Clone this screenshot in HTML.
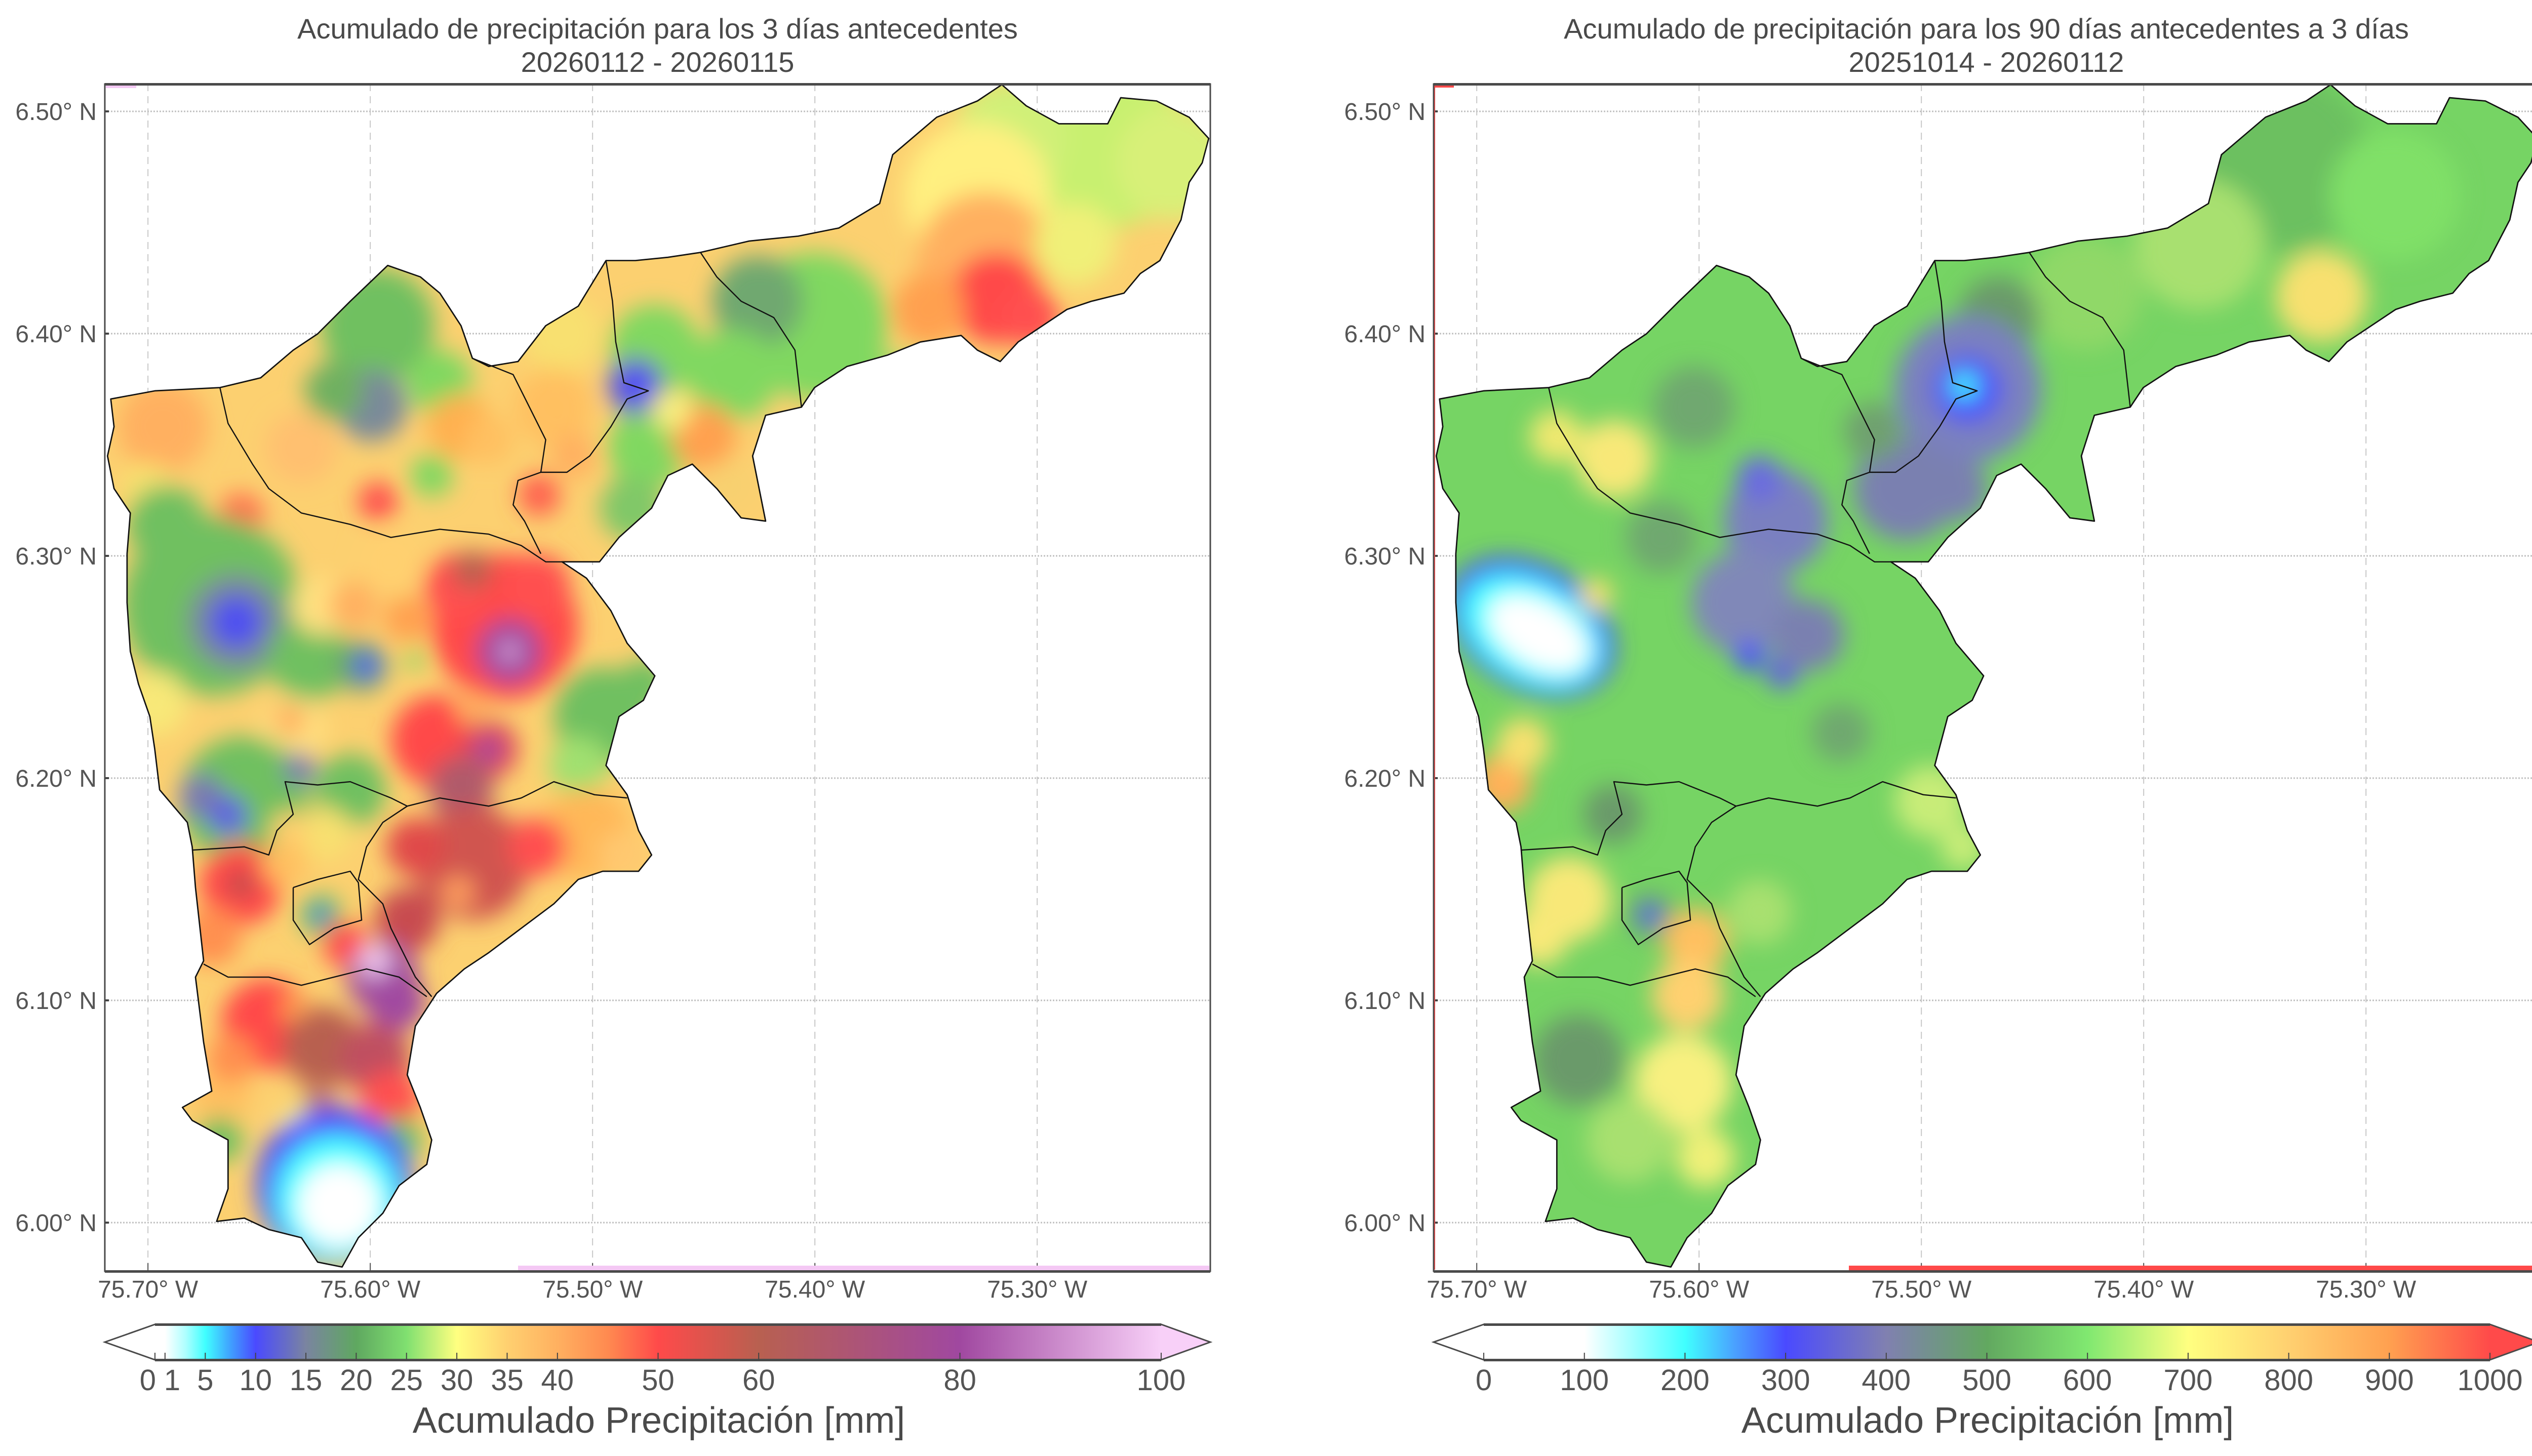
<!DOCTYPE html>
<html><head><meta charset="utf-8">
<style>
html,body{margin:0;padding:0;background:#fff;}
svg{display:block;font-family:"Liberation Sans Narrow","Liberation Sans",sans-serif;}
</style></head>
<body>
<svg id="fig" xmlns="http://www.w3.org/2000/svg" width="5044" height="2876" viewBox="0 0 5044 2876">
<defs>
  <filter id="blurL" x="-20%" y="-20%" width="140%" height="140%"><feGaussianBlur stdDeviation="7"/></filter>
</defs>
<g id="root"></g>
</svg>
<script>
// ---------- data ----------
const leftTickValues = [0, 1, 5, 10, 15, 20, 25, 30, 35, 40, 50, 60, 80, 100];
const leftTickLabels = ["0", "1", "5", "10", "15", "20", "25", "30", "35", "40", "50", "60", "80", "100"];
const leftStopValues = [0, 1, 3, 5, 7.5, 10, 15, 20, 25, 30, 35, 40, 45, 50, 60, 80, 100];
const leftStopColors = ["#ffffff","#ffffff","#b0ffff","#40ffff","#40a0ff","#4a4aff","#7a84a0","#5fa860","#80e070","#ffff80","#ffd070","#ffb060","#ff8a50","#ff4a4a","#b86050","#a048a0","#f8d0f8"];
const rightTickValues = [0, 100, 200, 300, 400, 500, 600, 700, 800, 900, 1000];
const rightTickLabels = ["0","100","200","300","400","500","600","700","800","900","1000"];
const rightStopValues = [0, 100, 200, 250, 300, 400, 500, 600, 700, 800, 900, 1000];
const rightStopColors = ["#ffffff","#ffffff","#40ffff","#4aa0ff","#4a4aff","#8080b0","#62a860","#80e870","#ffff80","#ffd070","#ffa050","#ff4a4a"];
const lonTicks = [-75.7, -75.6, -75.5, -75.4, -75.3];
const lonLabels = ["75.70° W","75.60° W","75.50° W","75.40° W","75.30° W"];
const latTicks = [6.0, 6.1, 6.2, 6.3, 6.4, 6.5];
const latLabels = ["6.00° N","6.10° N","6.20° N","6.30° N","6.40° N","6.50° N"];

const NS = "http://www.w3.org/2000/svg";
const root = document.getElementById("root");
function mk(tag, attrs, parent){ const e=document.createElementNS(NS,tag); for(const k in attrs) e.setAttribute(k,attrs[k]); (parent||root).appendChild(e); return e; }

const AX_TOP=166, AX_BOT=2511, AX_W=2183;
const LON0=-75.7194, PX_PER_DEG=4390;
const LAT0=6.0, Y_LAT0=2415;
function xLon(left, lon){ return left + (lon-LON0)*PX_PER_DEG; }
function yLat(lat){ return Y_LAT0 - (lat-LAT0)*PX_PER_DEG; }

const outer = [[68,245],[95,240],[135,238],[160,232],[180,215],[195,205],[215,185],[238,163],[258,170],[270,180],[283,200],[290,220],[300,225],[318,222],[335,200],[355,188],[372,160],[390,160],[410,158],[430,155],[460,148],[490,145],[515,140],[540,125],[548,95],[575,72],[600,62],[615,52],[630,65],[650,76],[680,76],[688,60],[710,62],[730,72],[742,85],[738,100],[730,112],[725,135],[712,160],[700,168],[690,180],[670,185],[655,190],[640,200],[625,210],[614,222],[600,215],[590,206],[565,210],[545,218],[520,225],[500,238],[492,250],[470,255],[462,280],[470,320],[455,318],[440,300],[425,285],[410,292],[400,312],[380,330],[368,345],[345,345],[360,355],[375,375],[385,395],[402,415],[395,430],[380,440],[372,470],[385,488],[392,510],[400,525],[392,535],[370,535],[355,540],[340,555],[320,570],[300,585],[285,595],[268,610],[255,630],[250,660],[258,680],[265,700],[262,715],[245,728],[235,745],[220,760],[210,778],[195,775],[185,760],[165,755],[150,748],[133,750],[140,730],[140,700],[118,688],[112,680],[130,670],[125,640],[120,600],[125,590],[120,545],[118,520],[115,505],[98,485],[95,460],[92,440],[85,420],[80,400],[78,370],[78,340],[80,315],[70,300],[66,280],[70,262]];
const inner = [
 [[135,238],[140,260],[155,285],[165,300],[185,315],[215,322],[240,330],[270,325],[300,328],[320,335],[335,345],[345,345]],
 [[290,220],[315,230],[325,250],[335,270],[332,290],[318,295],[315,310],[322,320],[332,340]],
 [[372,160],[376,185],[378,210],[383,235],[398,240],[385,245],[375,262],[362,280],[348,290],[332,290]],
 [[430,155],[440,170],[455,185],[475,195],[488,215],[492,250]],
 [[118,522],[150,520],[165,525],[170,510],[180,500],[175,480],[195,482],[215,480],[240,490],[250,495],[270,490],[300,495],[320,490],[340,480],[365,488],[385,490]],
 [[250,495],[235,505],[225,520],[220,540],[235,555],[240,570],[255,600],[265,612]],
 [[125,592],[140,600],[165,600],[185,605],[205,600],[225,595],[245,600],[262,612]],
 [[180,545],[195,540],[215,535],[220,542],[222,565],[205,570],[190,580],[180,565],[180,545]]
];
// colour blobs: [x, y, r, colour, ry?, rot?] display coords
const leftBlobs = [
 [680,90,50,"#c8f070"],[720,100,35,"#d8f078"],[620,85,35,"#d0f078"],[600,120,45,"#fff080"],[605,160,42,"#ffb060"],[612,183,28,"#ff4a4a"],[632,195,18,"#ff5050"],[570,190,22,"#ffa050"],[560,235,18,"#a0e070"],[660,150,25,"#f0f078"],
 [500,200,45,"#80d860"],[465,185,28,"#70a870"],[450,230,28,"#80d860"],[520,225,25,"#80d860"],
 [402,215,28,"#80d860"],[398,275,25,"#80d860"],[388,312,20,"#80c868"],[390,237,18,"#7070c0"],[390,237,10,"#4a4aff"],[432,268,20,"#ffa050"],[448,298,16,"#f8d070"],[412,252,12,"#f8f080"],
 [345,205,24,"#f8e070"],[340,250,24,"#ffc060"],[331,304,13,"#ff6050"],[352,280,14,"#ffb060"],
 [232,200,35,"#70c060"],[228,249,22,"#7a8a9a"],[205,240,18,"#70b060"],[270,235,20,"#80d860"],[265,292,13,"#80d860"],[282,262,20,"#ffb050"],[232,308,12,"#ff5050"],[185,275,22,"#ffc070"],[148,317,14,"#ff7050"],[300,270,15,"#ffc060"],
 [100,262,28,"#ffb060"],[90,300,16,"#f8e070"],
 [130,372,55,"#70c060"],[102,322,24,"#70c060"],[145,382,30,"#7a8a9a"],[145,382,16,"#5050f0"],[190,405,25,"#70c060"],[222,409,16,"#70a070"],[225,409,7,"#4a4aff"],[95,432,20,"#f8e878"],[180,448,20,"#ffe080"],[178,442,10,"#ffb060"],[255,405,6,"#80d860"],
 [150,492,40,"#70c060"],[124,489,14,"#7a7ab0"],[140,501,12,"#6060e0"],[184,472,10,"#7a7ab0"],[215,485,22,"#70c060"],[200,512,16,"#f8e070"],[178,510,12,"#ffd070"],
 [197,372,18,"#ffe080"],[217,372,15,"#ffb060"],[240,345,20,"#ffd070"],[250,380,14,"#ffa050"],
 [310,385,45,"#ff4a4a"],[313,400,20,"#a048a0"],[313,400,5,"#f0c0f0"],[280,360,20,"#ff5050"],[330,360,20,"#ff5050"],[290,350,12,"#b86050"],
 [268,455,28,"#ff4a4a"],[300,460,18,"#e04858"],[300,460,8,"#a048a0"],[283,484,20,"#b05a6a"],[290,435,10,"#ffb060"],
 [370,440,30,"#70c060"],[395,420,15,"#70c060"],[355,470,18,"#a0e070"],
 [360,512,28,"#ffb858"],[382,525,15,"#ffc870"],
 [290,530,35,"#d05450"],[281,548,10,"#ffa060"],[255,520,18,"#e04848"],[330,520,18,"#ff5050"],[250,565,20,"#c84c50"],
 [148,543,25,"#ff4a4a"],[148,543,8,"#b05050"],[130,575,18,"#ff9050"],[175,530,14,"#ffc060"],[197,562,13,"#70c060"],[197,562,5,"#4a4aff"],[212,580,14,"#ff5050"],
 [235,600,22,"#a048a0"],[230,590,10,"#f0c8f0"],[243,615,18,"#a048a0"],
 [164,629,28,"#ff4a4a"],[198,643,25,"#b86050"],[180,619,8,"#ffa050"],[136,671,18,"#ffc060"],[142,650,15,"#ff9050"],[195,682,12,"#a85a70"],[230,650,22,"#c05060"],[240,675,18,"#ff5050"],
 [185,693,14,"#ffff80"],[135,700,14,"#70c060"],[245,700,14,"#70c060"],
 [205,728,48,"#5050ff"],[207,735,38,"#40ffff"],[208,740,26,"#ffffff"]
];
const rightBlobs = [
 [1400,100,55,"#6cc060"],[1350,150,40,"#a8e070"],[1425,182,28,"#f8e070"],[1470,120,40,"#80e068"],[1280,180,35,"#90d868"],[1227,195,25,"#6a9a6a"],
 [1208,239,45,"#7a80c0"],[1208,239,20,"#4a4aff"],[1206,237,8,"#40ffff"],[1170,300,32,"#7a80b0"],[1150,265,18,"#70a070"],[1200,300,20,"#7a80b0"],
 [1090,320,32,"#7a80c0"],[1080,294,14,"#6a6ae0"],[1070,370,32,"#8088b8"],[1074,403,9,"#4a4aff"],[1094,413,10,"#6060e0"],[1110,390,22,"#7a80b0"],[1020,330,22,"#70a870"],[1130,450,18,"#70a870"],[1040,250,25,"#70a870"],
 [991,282,24,"#f8e878"],[955,268,16,"#f0e870"],
 [940,385,55,"#4a4aff",38,30],[940,387,46,"#40ffff",30,30],[944,389,34,"#ffffff",20,30],[980,365,10,"#f8e070"],
 [922,481,18,"#ffb058"],[935,457,16,"#f8e070"],[963,552,26,"#f8e878"],[945,575,18,"#f8e878"],[1013,562,14,"#70a070"],[1013,562,6,"#4a4aff"],
 [1041,578,20,"#ffc060"],[1036,611,22,"#ffd070"],[1033,665,30,"#f8f080"],[1047,711,18,"#f0f078"],[969,651,28,"#6a9a6a"],[1000,700,26,"#a8e070"],
 [1185,492,22,"#c8ec78"],[1205,520,14,"#c8ec78"],[1080,560,20,"#a8e070"],[990,500,18,"#6a9a6a"]
];

function buildPanel(left, titleL1, titleL2, blobs, mapDX, baseColor, tickVals, tickLabels, stopVals, stopColors, fFrac, rightTriColor, name, artifactColor, artifacts){
  const g = mk("g",{});
  
  
  const cx = left + AX_W/2;
  const t1 = mk("text",{x:cx,y:76,"text-anchor":"middle","font-size":56,fill:"#4a4a4a"},g);
  t1.textContent = titleL1;
  
  
  const t2 = mk("text",{x:cx,y:142,"text-anchor":"middle","font-size":56,fill:"#4a4a4a"},g);
  t2.textContent = titleL2;
  
  
  lonTicks.forEach((lon,i)=>{
    const x = xLon(left, lon);
    const l = mk("line",{x1:x,x2:x,y1:AX_TOP,y2:AX_BOT,stroke:"#c8c8c8","stroke-width":2,"stroke-dasharray":"14,10"},g);
    
    
    mk("line",{x1:x,x2:x,y1:AX_BOT-16,y2:AX_BOT,stroke:"#555","stroke-width":2},g);
    const tl = mk("text",{x:x,y:2563,"text-anchor":"middle","font-size":48,fill:"#555"},g);
    tl.textContent = lonLabels[i];
    
    
  });
  latTicks.forEach((lat,i)=>{
    const y = yLat(lat);
    const l = mk("line",{x1:left,x2:left+AX_W,y1:y,y2:y,stroke:"#c0c0c0","stroke-width":3,"stroke-dasharray":"3,3"},g);
    
    
    mk("line",{x1:left,x2:left+8,y1:y,y2:y,stroke:"#444","stroke-width":4},g);
    const tl = mk("text",{x:left-16,y:y+17,"text-anchor":"end","font-size":48,fill:"#555"},g);
    tl.textContent = latLabels[i];
    
    
  });
  const S = 3.2168;
  const mg = mk("g",{transform:`scale(${S}) translate(${mapDX},0)`},g);
  
  
  const cid = "clip-"+name;
  const cp = mk("clipPath",{id:cid},mg);
  const d = "M"+outer.map(p=>p.join(",")).join(" L")+" Z";
  mk("path",{d:d},cp);
  const field = mk("g",{"clip-path":`url(#${cid})`},mg);
  mk("rect",{x:40,y:40,width:720,height:760,fill:baseColor},field);
  const bg = mk("g",{filter:"url(#blurL)"},field);
  blobs.forEach(b=>{
    let c;
    if(b.length>4){
      c = mk("ellipse",{cx:b[0],cy:b[1],rx:b[2],ry:b[4],fill:b[3],transform:`rotate(${b[5]} ${b[0]} ${b[1]})`},bg);
    } else {
      c = mk("circle",{cx:b[0],cy:b[1],r:b[2],fill:b[3]},bg);
    }
    
    
  });
  inner.forEach(line=>{
    const p = mk("path",{d:"M"+line.map(p=>p.join(",")).join(" L"),fill:"none",stroke:"#111","stroke-width":0.75,"stroke-linejoin":"round"},mg);
    
    
  });
  const ob = mk("path",{d:d,fill:"none",stroke:"#111","stroke-width":0.85,"stroke-linejoin":"round"},mg);
  
  
  artifacts.forEach(a=>{ mk("rect",{x:a[0],y:a[1],width:a[2],height:a[3],fill:artifactColor},g); });
  const fr = mk("rect",{x:left,y:AX_TOP,width:AX_W,height:AX_BOT-AX_TOP,fill:"none",stroke:"#4a4a4a","stroke-width":3},g);
  
  
  mk("rect",{x:left,y:AX_TOP-2,width:AX_W,height:5,fill:"#4a4a4a"},g);
  mk("rect",{x:left,y:AX_BOT-2,width:AX_W,height:5,fill:"#4a4a4a"},g);

  const cbL = left+99, cbR = left+AX_W-97, cbT=2616, cbB=2686, cbM=(cbT+cbB)/2;
  const cbW = cbR-cbL;
  const gid = "grad-"+name;
  const grad = mk("linearGradient",{id:gid,x1:0,x2:1,y1:0,y2:0},g);
  stopVals.forEach((v,i)=>{ mk("stop",{offset:fFrac(v),"stop-color":stopColors[i]},grad); });
  const cb = mk("g",{},g);
  
  
  mk("polygon",{points:`${cbL},${cbT} ${left},${cbM} ${cbL},${cbB}`,fill:stopColors[0]},cb);
  mk("polygon",{points:`${cbR},${cbT} ${left+AX_W},${cbM} ${cbR},${cbB}`,fill:rightTriColor},cb);
  mk("rect",{x:cbL,y:cbT,width:cbW,height:cbB-cbT,fill:`url(#${gid})`},cb);
  mk("polygon",{points:`${cbL},${cbT} ${cbR},${cbT} ${left+AX_W},${cbM} ${cbR},${cbB} ${cbL},${cbB} ${left},${cbM}`,fill:"none",stroke:"#4a4a4a","stroke-width":3},cb);
  mk("rect",{x:cbL,y:cbT-2,width:cbW,height:5,fill:"#4a4a4a"},cb);
  mk("rect",{x:cbL,y:cbB-2,width:cbW,height:5,fill:"#4a4a4a"},cb);
  tickVals.forEach((v,i)=>{
    const x = cbL + fFrac(v)*cbW;
    mk("line",{x1:x,x2:x,y1:cbB-14,y2:cbB,stroke:"#444","stroke-width":2},cb);
    let lab = tickLabels[i], tx = x, anchor="middle";
    if(name==="left" && v===0){ tx=x+2; anchor="end"; }
    if(name==="left" && v===1){ tx=x-2; anchor="start"; }
    const tl = mk("text",{x:tx,y:2746,"text-anchor":anchor,"font-size":58,fill:"#555"},cb);
    tl.textContent = lab;
    
    
  });
  const cl = mk("text",{x:left+99+ (name==="left"?(1301-306):(3925-2930)),y:2830,"text-anchor":"middle","font-size":72,fill:"#4a4a4a"},cb);
  cl.textContent = "Acumulado Precipitación [mm]";
  
  
}

function fLeft(v){ return v<=40 ? v/40*0.4 : 0.4+(v-40)/60*0.6; }
function fRight(v){ return v/1000; }

buildPanel(207,"Acumulado de precipitación para los 3 días antecedentes","20260112 - 20260115",
  leftBlobs,0,"#fcd070",leftTickValues,leftTickLabels,leftStopValues,leftStopColors,fLeft,"#f8d0f8","left","#f4c8f4",
  [[1023,2500,1365,9],[209,168,60,6]]);
const rightBlobsShifted = rightBlobs.map(b=>{ const c=b.slice(); c[0]=b[0]-815.7; return c; });
buildPanel(2831,"Acumulado de precipitación para los 90 días antecedentes a 3 días","20251014 - 20260112",
  rightBlobsShifted,815.7,"#76d464",rightTickValues,rightTickLabels,rightStopValues,rightStopColors,fRight,"#ff4a4a","right","#ff4a4a",
  [[3651,2500,1365,9],[2831,168,40,5],[2831,168,3,2340]]);
</script>
</body></html>
